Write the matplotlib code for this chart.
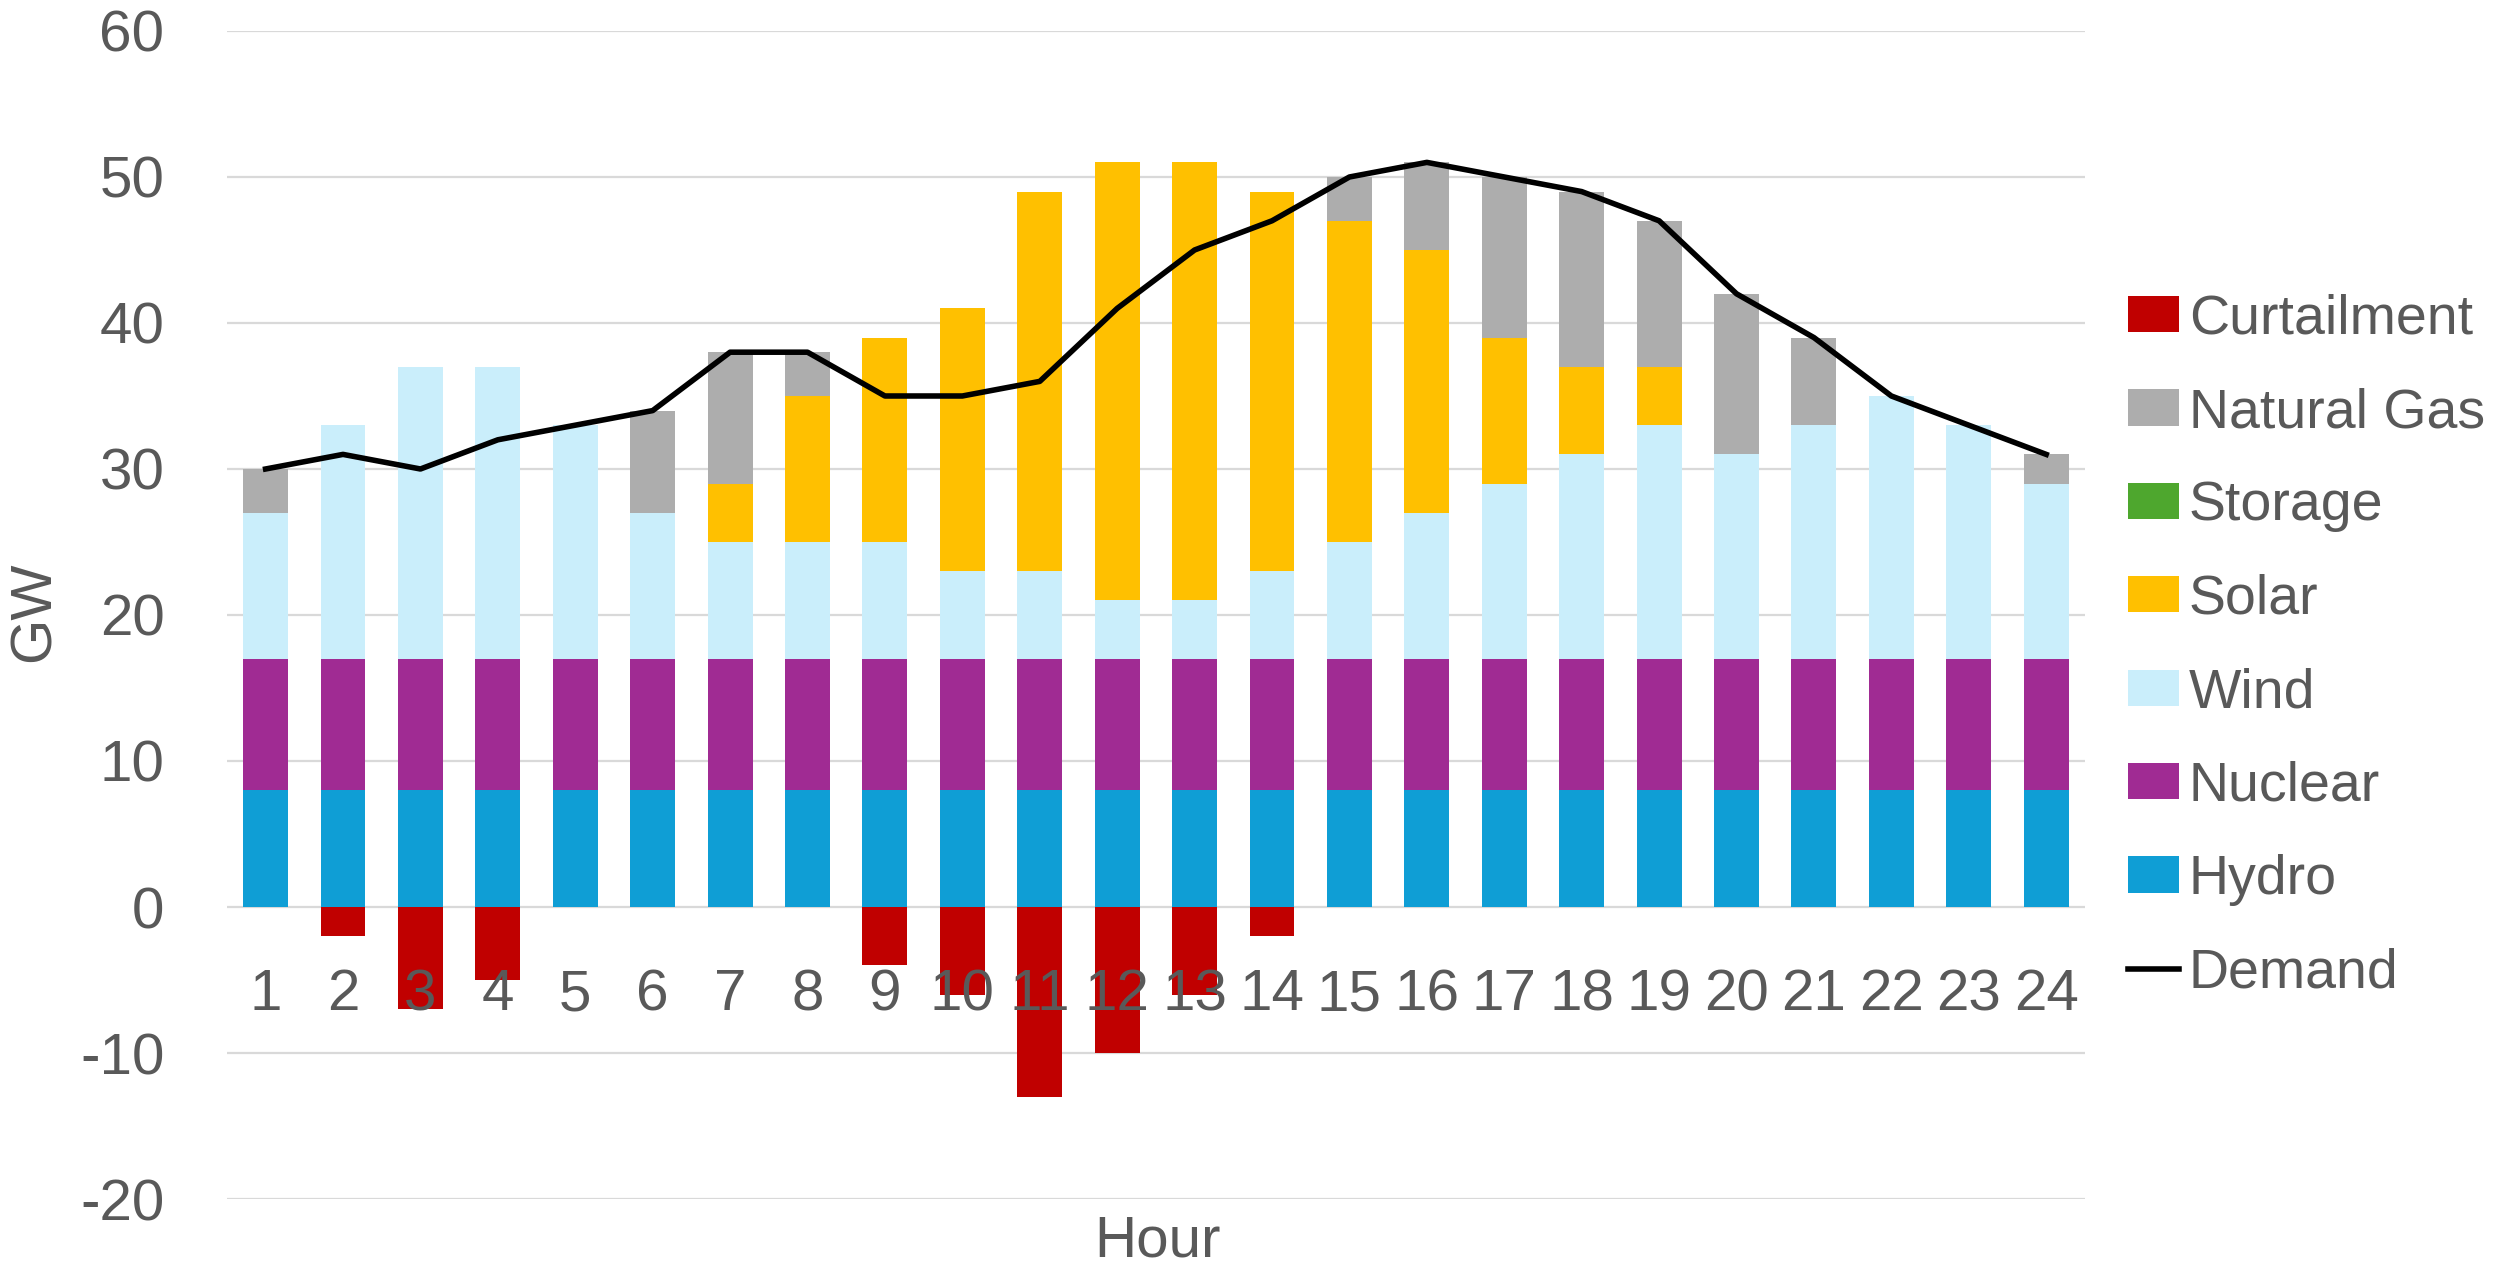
import numpy as np
import matplotlib
matplotlib.use('Agg')
import matplotlib.pyplot as plt

plt.rcParams['font.family'] = ['Liberation Sans', 'DejaVu Sans']
plt.rcParams['axes.unicode_minus'] = False

hours = list(range(1, 25))
hydro = [8] * 24
nuclear = [9] * 24
wind = [10, 16, 20, 20, 16, 10, 8, 8, 8, 6, 6, 4, 4, 6, 8, 10, 12, 14, 16, 14, 16, 18, 16, 12]
solar = [0, 0, 0, 0, 0, 0, 4, 10, 14, 18, 26, 30, 30, 26, 22, 18, 10, 6, 4, 0, 0, 0, 0, 0]
storage = [0] * 24
gas = [3, 0, 0, 0, 0, 7, 9, 3, 0, 0, 0, 0, 0, 0, 3, 6, 11, 12, 10, 11, 6, 0, 0, 2]
curtailment = [0, -2, -7, -5, 0, 0, 0, 0, -4, -6, -13, -10, -6, -2, 0, 0, 0, 0, 0, 0, 0, 0, 0, 0]
demand = [30, 31, 30, 32, 33, 34, 38, 38, 35, 35, 36, 41, 45, 47, 50, 51, 50, 49, 47, 42, 39, 35, 33, 31]
yticks = list(range(-20, 61, 10))

series = [
    ('Hydro', hydro, '#0F9ED5'),
    ('Nuclear', nuclear, '#A02B93'),
    ('Wind', wind, '#CAEEFB'),
    ('Solar', solar, '#FFC000'),
    ('Storage', storage, '#4EA72E'),
    ('Natural Gas', gas, '#ADADAD'),
]
txt = '#595959'
fs = 42
leg_fs = 40

fig = plt.figure(figsize=(24.96, 12.75), dpi=100)
ax = fig.add_axes([0.0909, 0.0596, 0.7444, 0.9161])

x = np.arange(len(hours))
width = 0.58
bottom = np.zeros(len(hours))
handles = {}
for name, vals, color in series:
    vals = np.array(vals, dtype=float)
    handles[name] = ax.bar(x, vals, width, bottom=bottom, color=color, label=name, zorder=2)
    bottom += vals
handles['Curtailment'] = ax.bar(x, curtailment, width, color='#C00000', label='Curtailment', zorder=2)
line, = ax.plot(x, demand, color='black', linewidth=4, label='Demand', zorder=3)
handles['Demand'] = line

# gridlines behind the bars, tick labels in front
for y in yticks:
    ax.axhline(y, color='#D9D9D9', linewidth=1.6, zorder=1)
ax.set_axisbelow(False)

ax.set_ylim(-20, 60)
ax.set_xlim(-0.5, 23.5)
ax.set_yticks(yticks)
ax.set_xticks(x)
ax.set_xticklabels([str(h) for h in hours])
for s in ['top', 'right', 'left', 'bottom']:
    ax.spines[s].set_visible(False)
ax.spines['bottom'].set_position(('data', 0))
ax.tick_params(axis='y', length=0, pad=45, labelsize=fs, labelcolor=txt)
ax.tick_params(axis='x', length=0, pad=44, labelsize=fs, labelcolor=txt)

fig.text(0.014, 0.52, 'GW', rotation=90, fontsize=fs, color=txt, ha='center', va='center')
fig.text(0.4637, 0.026, 'Hour', fontsize=fs, color=txt, ha='center', va='center')

order = ['Curtailment', 'Natural Gas', 'Storage', 'Solar', 'Wind', 'Nuclear', 'Hydro', 'Demand']
leg = ax.legend([handles[k] for k in order], order, loc='center left', bbox_to_anchor=(1.023, 0.473),
                frameon=False, fontsize=leg_fs, labelcolor=txt, borderpad=0, borderaxespad=0,
                handlelength=0.92, handleheight=0.63, handletextpad=0.18, labelspacing=0.745)

fig.savefig('out.png', dpi=100)
